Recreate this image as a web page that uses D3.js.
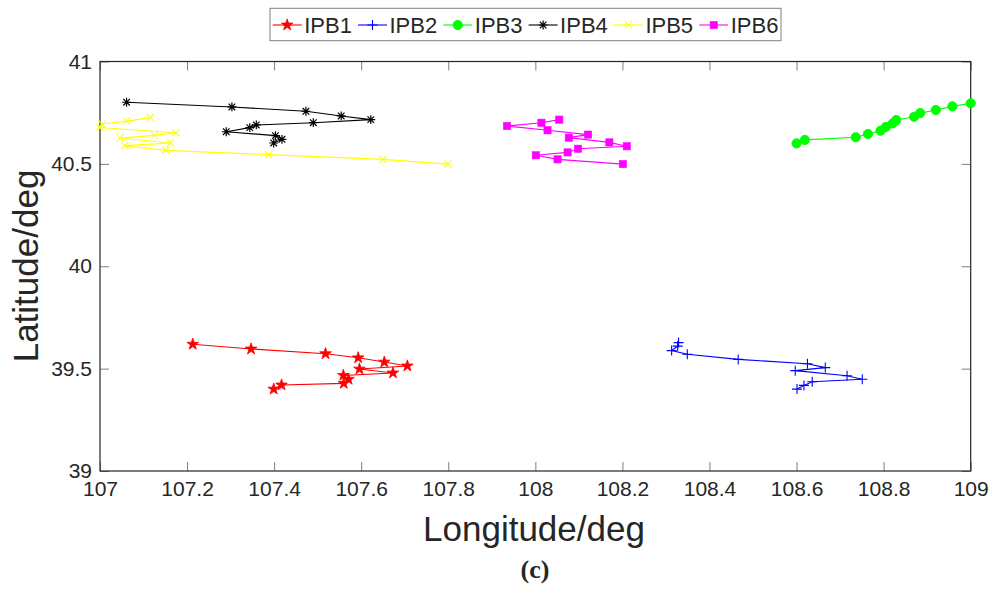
<!DOCTYPE html>
<html>
<head>
<meta charset="utf-8">
<script src="https://cdn.jsdelivr.net/npm/d3@7"></script>
<style>
  html, body { margin: 0; padding: 0; background: #fff; }
  svg { display: block; }
  text { font-family: "Liberation Sans", Arial, Helvetica, sans-serif; fill: #262626; }
</style>
</head>
<body>
<svg id="chart" width="1000" height="590"></svg>
<script>
// ---- Data ----
const seriesNames = ["IPB1", "IPB2", "IPB3", "IPB4", "IPB5", "IPB6"];
const seriesColors = ["#ff0000", "#0000ff", "#00ff00", "#000000", "#ffff00", "#ff00ff"];
const seriesMarkers = ["star", "plus", "circle", "asterisk", "cross", "square"];

const ipb1Lon = [107.213, 107.347, 107.518, 107.593, 107.653, 107.706, 107.596, 107.673, 107.559, 107.571, 107.560, 107.417, 107.399];
const ipb1Lat = [39.619, 39.596, 39.573, 39.553, 39.532, 39.513, 39.498, 39.479, 39.467, 39.448, 39.428, 39.420, 39.400];

const ipb2Lon = [108.329, 108.327, 108.313, 108.349, 108.466, 108.625, 108.666, 108.597, 108.716, 108.751, 108.636, 108.617, 108.601];
const ipb2Lat = [39.627, 39.610, 39.588, 39.570, 39.545, 39.524, 39.505, 39.490, 39.465, 39.448, 39.436, 39.418, 39.400];

const ipb3Lon = [108.600, 108.619, 108.736, 108.764, 108.793, 108.805, 108.821, 108.829, 108.870, 108.884, 108.920, 108.958, 109.000];
const ipb3Lat = [40.600, 40.617, 40.630, 40.646, 40.662, 40.680, 40.698, 40.714, 40.730, 40.748, 40.763, 40.781, 40.796];

const ipb4Lon = [107.061, 107.303, 107.473, 107.554, 107.622, 107.490, 107.359, 107.344, 107.290, 107.403, 107.418, 107.399];
const ipb4Lat = [40.801, 40.778, 40.757, 40.734, 40.716, 40.701, 40.690, 40.677, 40.657, 40.638, 40.620, 40.602];

const ipb5Lon = [107.116, 107.061, 107.005, 107.000, 107.174, 107.125, 107.046, 107.162, 107.057, 107.151, 107.387, 107.650, 107.799];
const ipb5Lat = [40.726, 40.709, 40.695, 40.677, 40.652, 40.639, 40.626, 40.602, 40.589, 40.566, 40.545, 40.522, 40.499];

const ipb6Lon = [108.055, 108.014, 107.935, 108.028, 108.121, 108.077, 108.170, 108.210, 108.098, 108.074, 108.001, 108.051, 108.201];
const ipb6Lat = [40.716, 40.701, 40.685, 40.664, 40.643, 40.628, 40.605, 40.586, 40.574, 40.556, 40.542, 40.522, 40.499];

const xTicks = [107, 107.2, 107.4, 107.6, 107.8, 108, 108.2, 108.4, 108.6, 108.8, 109];
const yTicks = [39, 39.5, 40, 40.5, 41];
const xTitle = "Longitude/deg";
const yTitle = "Latitude/deg";
const panelLabel = "(c)";

const allLon = [ipb1Lon, ipb2Lon, ipb3Lon, ipb4Lon, ipb5Lon, ipb6Lon];
const allLat = [ipb1Lat, ipb2Lat, ipb3Lat, ipb4Lat, ipb5Lat, ipb6Lat];
const series = seriesNames.map((name, i) => ({
  name, color: seriesColors[i], marker: seriesMarkers[i],
  pts: allLon[i].map((lon, j) => ({ lon, lat: allLat[i][j] }))
}));

// ---- Layout ----
const svg = d3.select("#chart");
const L = 100, R = 970.7, T = 61.5, B = 471;
const x = d3.scaleLinear().domain([107, 109]).range([L, R]);
const y = d3.scaleLinear().domain([39, 41]).range([B, T]);
const axisColor = "#262626";
const tickLen = 9;

svg.append("rect").attr("x", L).attr("y", T).attr("width", R - L).attr("height", B - T)
  .attr("fill", "#fff");

// Axes (ticks inward, box on)
const gx = svg.append("g").attr("transform", `translate(0,${B})`)
  .call(d3.axisBottom(x).tickValues(xTicks).tickSizeInner(-tickLen).tickSizeOuter(0).tickPadding(16)
    .tickFormat(d3.format("~g")));
const gxTop = svg.append("g").attr("transform", `translate(0,${T})`)
  .call(d3.axisTop(x).tickValues(xTicks).tickSizeInner(-tickLen).tickSizeOuter(0).tickFormat(""));
const gy = svg.append("g").attr("transform", `translate(${L},0)`)
  .call(d3.axisLeft(y).tickValues(yTicks).tickSizeInner(-tickLen).tickSizeOuter(0).tickPadding(17)
    .tickFormat(d3.format("~g")));
const gyRight = svg.append("g").attr("transform", `translate(${R},0)`)
  .call(d3.axisRight(y).tickValues(yTicks).tickSizeInner(-tickLen).tickSizeOuter(0).tickFormat(""));

[gx, gxTop, gy, gyRight].forEach(g => {
  g.select(".domain").remove();
  g.selectAll(".tick line").attr("stroke", "#7f7f7f").attr("stroke-width", 1);
  g.selectAll(".tick text").attr("fill", axisColor).style("font-size", "21px")
    .style("font-family", "'Liberation Sans', Arial, sans-serif");
});
gx.selectAll(".tick text").attr("dy", "0.71em").attr("y", 10);
gy.selectAll(".tick text").attr("x", -8);

// box
svg.append("rect").attr("x", L).attr("y", T).attr("width", R - L).attr("height", B - T)
  .attr("fill", "none").attr("stroke", axisColor).attr("stroke-width", 1.2);

// titles
svg.append("text").attr("x", 534).attr("y", 541).attr("text-anchor", "middle")
  .style("font-size", "35px").text(xTitle);
svg.append("text").attr("transform", "translate(38,266) rotate(-90)").attr("text-anchor", "middle")
  .style("font-size", "35px").text(yTitle);
svg.append("text").attr("x", 535).attr("y", 578).attr("text-anchor", "middle")
  .style("font-family", "'Liberation Serif', 'Times New Roman', serif")
  .style("font-weight", "bold").style("font-size", "26px").attr("fill", "#000").text(panelLabel);

// ---- Markers ----
function drawMarker(g, type, color, cx, cy) {
  if (type === "star") {
    g.append("path").attr("d", d3.symbol().type(d3.symbolStar).size(42)())
      .attr("transform", `translate(${cx},${cy})`).attr("fill", color).attr("stroke", color).attr("stroke-width", 0.8);
  } else if (type === "circle") {
    g.append("circle").attr("cx", cx).attr("cy", cy).attr("r", 4.6).attr("fill", color).attr("stroke", color);
  } else if (type === "square") {
    g.append("rect").attr("x", cx - 3.6).attr("y", cy - 3.6).attr("width", 7.2).attr("height", 7.2)
      .attr("fill", color).attr("stroke", color).attr("stroke-width", 0.6);
  } else if (type === "plus") {
    const a = 5;
    g.append("path").attr("d", `M${cx - a},${cy}H${cx + a}M${cx},${cy - a}V${cy + a}`)
      .attr("stroke", color).attr("stroke-width", 1.1).attr("fill", "none");
  } else if (type === "cross") {
    const a = 3.6;
    g.append("path").attr("d", `M${cx - a},${cy - a}L${cx + a},${cy + a}M${cx - a},${cy + a}L${cx + a},${cy - a}`)
      .attr("stroke", color).attr("stroke-width", 1.1).attr("fill", "none");
  } else if (type === "asterisk") {
    const a = 4.4, b = 3.3;
    g.append("path").attr("d",
      `M${cx - a},${cy}H${cx + a}M${cx},${cy - a}V${cy + a}M${cx - b},${cy - b}L${cx + b},${cy + b}M${cx - b},${cy + b}L${cx + b},${cy - b}`)
      .attr("stroke", color).attr("stroke-width", 1.2).attr("fill", "none");
  }
}

// ---- Series ----
const line = d3.line().x(d => x(d.lon)).y(d => y(d.lat));
const plot = svg.append("g");
series.forEach(s => {
  const g = plot.append("g");
  g.append("path").datum(s.pts).attr("d", line).attr("fill", "none")
    .attr("stroke", s.color).attr("stroke-width", 1.1);
  s.pts.forEach(p => drawMarker(g, s.marker, s.color, x(p.lon), y(p.lat)));
});

// ---- Legend ----
const legend = svg.append("g");
legend.append("rect").attr("x", 270).attr("y", 8.3).attr("width", 511).attr("height", 32.4)
  .attr("fill", "#fff").attr("stroke", "#7f7f7f").attr("stroke-width", 1);
const legX0 = 272.7, legStep = 85.3, legY = 25;
series.forEach((s, i) => {
  const lx = legX0 + i * legStep;
  const g = legend.append("g");
  g.append("line").attr("x1", lx).attr("x2", lx + 29).attr("y1", legY).attr("y2", legY)
    .attr("stroke", s.color).attr("stroke-width", 1.1);
  drawMarker(g, s.marker, s.color, lx + 14.5, legY);
  g.append("text").attr("x", lx + 31.5).attr("y", legY).attr("dy", "0.36em")
    .attr("fill", "#000").style("font-size", "22px").text(s.name);
});
</script>
</body>
</html>
